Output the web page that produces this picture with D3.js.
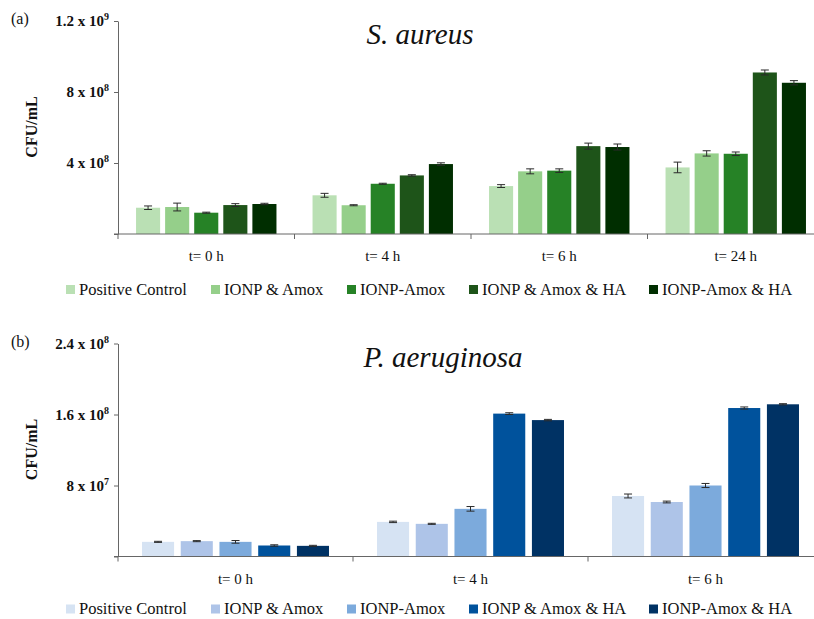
<!DOCTYPE html>
<html>
<head>
<meta charset="utf-8">
<script src="https://cdn.jsdelivr.net/npm/d3@7"></script>
<style>
  html, body { margin: 0; padding: 0; background: #fff; }
  svg { display: block; }
  text { font-family: "Liberation Serif", "DejaVu Serif", serif; fill: #111; }
</style>
</head>
<body>
<svg id="chart" width="814" height="619"></svg>
<script>
// Treatment groups (legend order)
const seriesNames = ["Positive Control", "IONP & Amox", "IONP-Amox", "IONP & Amox & HA", "IONP-Amox & HA"];

// (a) S. aureus — CFU/mL per time point
const saCategories = ["t= 0 h", "t= 4 h", "t= 6 h", "t= 24 h"];
const saPositiveControl = [1.48e8, 2.18e8, 2.70e8, 3.75e8];
const saIonpAndAmox     = [1.52e8, 1.62e8, 3.53e8, 4.54e8];
const saIonpAmox        = [1.20e8, 2.83e8, 3.57e8, 4.52e8];
const saIonpAmoxHaMix   = [1.63e8, 3.30e8, 4.95e8, 9.10e8];
const saIonpAmoxHa      = [1.69e8, 3.94e8, 4.90e8, 8.52e8];
const saErrors = [
  [1.0e7, 1.1e7, 8e6, 3.0e7],
  [2.2e7, 3e6, 1.4e7, 1.5e7],
  [3e6, 3e6, 1.0e7, 1.0e7],
  [8e6, 4e6, 1.7e7, 1.4e7],
  [4e6, 7e6, 1.7e7, 1.2e7]
];
const saTicks = [4e8, 8e8, 1.2e9];
const saTickLabels = [["4 x 10", "8"], ["8 x 10", "8"], ["1.2 x 10", "9"]];

// (b) P. aeruginosa — CFU/mL per time point
const paCategories = ["t= 0 h", "t= 4 h", "t= 6 h"];
const paPositiveControl = [1.65e7, 3.90e7, 6.82e7];
const paIonpAndAmox     = [1.73e7, 3.68e7, 6.14e7];
const paIonpAmox        = [1.65e7, 5.37e7, 8.00e7];
const paIonpAmoxHaMix   = [1.24e7, 1.61e8, 1.673e8];
const paIonpAmoxHa      = [1.20e7, 1.537e8, 1.715e8];
const paErrors = [
  [6e5, 8e5, 2.2e6],
  [6e5, 6e5, 1.0e6],
  [1.5e6, 2.6e6, 2.3e6],
  [8e5, 1.0e6, 1.2e6],
  [6e5, 8e5, 7e5]
];
const paTicks = [8e7, 1.6e8, 2.4e8];
const paTickLabels = [["8 x 10", "7"], ["1.6 x 10", "8"], ["2.4 x 10", "8"]];

const greens = ["#bae0b4", "#95cf8a", "#268226", "#1e5419", "#002e00"];
const blues  = ["#d6e3f3", "#aec4e8", "#7caadc", "#00529c", "#003264"];

const svg = d3.select("#chart");

function drawPanel(cfg) {
  const g = svg.append("g").attr("transform", `translate(0,${cfg.top})`);
  const x0 = 118, x1 = x0 + cfg.bandWidth * cfg.categories.length;
  const baseY = 213;

  const x = d3.scaleBand().domain(cfg.categories).range([x0, x1]).padding(0);
  const xs = d3.scaleBand().domain(d3.range(seriesNames.length))
    .range([0, x.bandwidth()]).paddingInner(0.172).paddingOuter(0.62);
  const y = d3.scaleLinear().domain([0, cfg.max]).range([baseY, 0]);

  const rows = cfg.categories.map((c, i) => ({
    cat: c,
    vals: cfg.series.map((s, k) => ({ k, v: s[i], e: cfg.errors[k][i] }))
  }));

  // bars
  const groups = g.selectAll("g.grp").data(rows).join("g")
    .attr("class", "grp")
    .attr("transform", d => `translate(${x(d.cat)},0)`);
  groups.selectAll("rect").data(d => d.vals).join("rect")
    .attr("x", d => xs(d.k))
    .attr("width", xs.bandwidth())
    .attr("y", d => y(d.v))
    .attr("height", d => baseY - y(d.v))
    .attr("fill", d => cfg.colors[d.k]);

  // error bars
  const eb = groups.selectAll("g.err").data(d => d.vals).join("g").attr("class", "err")
    .attr("stroke", "#2a2a2a").attr("stroke-width", 1);
  const cx = d => xs(d.k) + xs.bandwidth() / 2;
  eb.append("line").attr("x1", cx).attr("x2", cx)
    .attr("y1", d => y(d.v + d.e)).attr("y2", d => y(d.v - d.e));
  eb.append("line").attr("x1", d => cx(d) - 4).attr("x2", d => cx(d) + 4)
    .attr("y1", d => y(d.v + d.e)).attr("y2", d => y(d.v + d.e));
  eb.append("line").attr("x1", d => cx(d) - 4).attr("x2", d => cx(d) + 4)
    .attr("y1", d => y(d.v - d.e)).attr("y2", d => y(d.v - d.e));

  // y axis
  const yAxis = g.append("g").attr("transform", `translate(${x0},0)`)
    .call(d3.axisLeft(y).tickValues([0].concat(cfg.ticks)).tickSize(4).tickFormat("").tickSizeOuter(0));
  yAxis.select(".domain").attr("stroke", "#666");
  yAxis.selectAll(".tick line").attr("stroke", "#666");

  cfg.ticks.forEach((t, i) => {
    const lab = g.append("text")
      .attr("x", 109).attr("y", y(t) + 5)
      .attr("text-anchor", "end")
      .attr("font-weight", "bold").attr("font-size", 15);
    lab.append("tspan").text(cfg.tickLabels[i][0]);
    lab.append("tspan").attr("dy", -6).attr("font-size", 10).text(cfg.tickLabels[i][1]);
  });

  // x axis
  const xAxis = g.append("g").attr("transform", `translate(0,${baseY})`);
  xAxis.append("line").attr("x1", x0 - 4).attr("x2", 814)
    .attr("stroke", "#666");
  xAxis.selectAll("line.tk").data(d3.range(cfg.categories.length + 1)).join("line")
    .attr("class", "tk")
    .attr("x1", i => x0 + i * x.bandwidth()).attr("x2", i => x0 + i * x.bandwidth())
    .attr("y1", 0).attr("y2", 5).attr("stroke", "#666");
  xAxis.selectAll("text").data(cfg.categories).join("text")
    .attr("x", d => x(d) + x.bandwidth() / 2)
    .attr("y", 27)
    .attr("text-anchor", "middle")
    .attr("font-size", 15)
    .text(d => d);

  // axis title
  g.append("text")
    .attr("transform", `translate(37,${cfg.ylabY}) rotate(-90)`)
    .attr("text-anchor", "middle")
    .attr("font-weight", "bold").attr("font-size", 16)
    .text("CFU/mL");

  // panel letter
  g.append("text").attr("x", 11).attr("y", 3).attr("font-size", 16).text(cfg.letter);

  // title
  g.append("text").attr("x", cfg.titleX).attr("y", 23)
    .attr("text-anchor", "middle")
    .attr("font-style", "italic").attr("font-size", 29)
    .text(cfg.title);

  // legend
  const lg = g.append("g").attr("transform", `translate(0,${baseY + cfg.legendDy})`);
  const legendX = [66, 211, 347, 469, 649];
  seriesNames.forEach((name, k) => {
    lg.append("rect").attr("x", legendX[k]).attr("y", -5).attr("width", 9).attr("height", 9)
      .attr("fill", cfg.colors[k]);
    lg.append("text").attr("x", legendX[k] + 13).attr("y", 4.5)
      .attr("font-size", 16.5).text(name);
  });
}

drawPanel({
  top: 21, letter: "(a)", title: "S. aureus", titleX: 420,
  categories: saCategories,
  series: [saPositiveControl, saIonpAndAmox, saIonpAmox, saIonpAmoxHaMix, saIonpAmoxHa],
  errors: saErrors, max: 1.2e9, ticks: saTicks, tickLabels: saTickLabels,
  colors: greens, bandWidth: 176.5, ylabY: 106, legendDy: 56
});

drawPanel({
  top: 343.5, letter: "(b)", title: "P. aeruginosa", titleX: 443,
  categories: paCategories,
  series: [paPositiveControl, paIonpAndAmox, paIonpAmox, paIonpAmoxHaMix, paIonpAmoxHa],
  errors: paErrors, max: 2.4e8, ticks: paTicks, tickLabels: paTickLabels,
  colors: blues, bandWidth: 235, ylabY: 106, legendDy: 53
});
</script>
</body>
</html>
